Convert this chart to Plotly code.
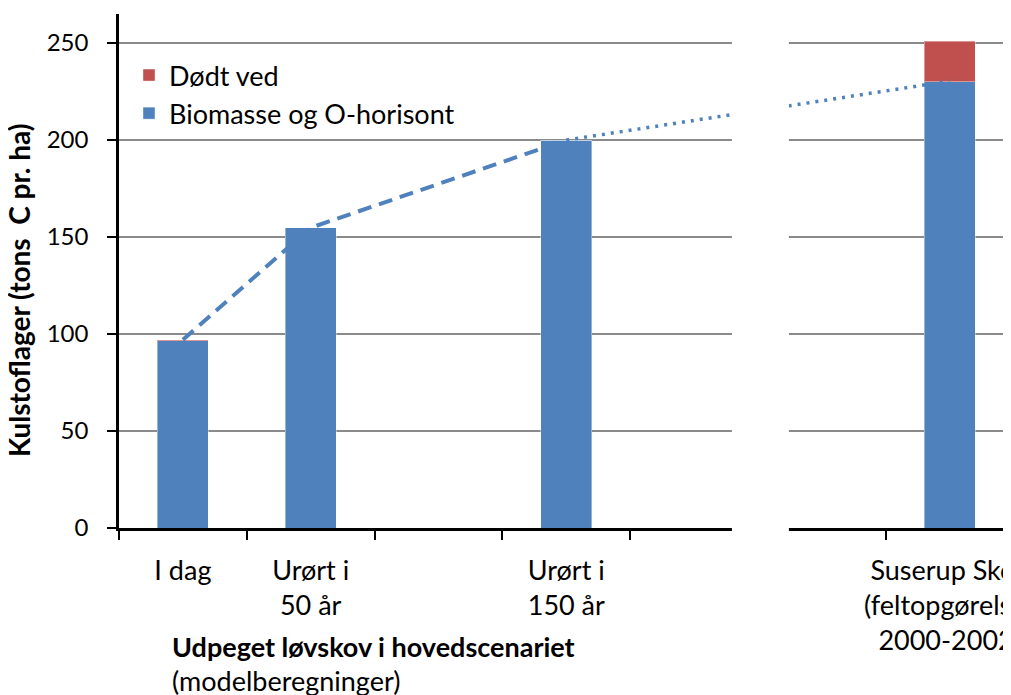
import plotly.graph_objects as go

# category positions along the shared x axis (two blank slots before Suserup)
categories = ["I dag", "Urørt i<br>50 år", "", "Urørt i<br>150 år", "", "",
              "Suserup Skov<br>(feltopgørelser<br>2000-2002)"]
positions = [0, 1, 2, 3, 4, 5, 6]

biomasse = [96.5, 154.8, None, 200.0, None, None, 230.0]
dodt_ved = [0.6, 0.0, None, 0.0, None, None, 21.0]

# trend line: modelled path (dashed) and extrapolation to Suserup (dotted)
model_x = [0, 1, 3]
model_y = [97.1, 154.8, 200.0]
extrap_x = [3, 6]
extrap_y = [200.0, 230.4]

BLUE = "#4F81BD"
RED = "#C0504D"
FONT = "Lato"
FS = 27

fig = go.Figure()
fig.add_trace(go.Bar(
    x=positions, y=biomasse, name="Biomasse og O-horisont",
    marker=dict(color=BLUE, line=dict(color="rgba(255,255,255,0.4)", width=1)),
    width=0.4,
))
fig.add_trace(go.Bar(
    x=positions, y=dodt_ved, name="Dødt ved",
    marker=dict(color=RED, line=dict(color="rgba(255,255,255,0.4)", width=1)),
    width=0.4,
))
fig.add_trace(go.Scatter(
    x=model_x, y=model_y, mode="lines", showlegend=False, hoverinfo="skip",
    line=dict(color=BLUE, width=4, dash="14px,8px"),
))
fig.add_trace(go.Scatter(
    x=extrap_x, y=extrap_y, mode="lines", showlegend=False, hoverinfo="skip",
    line=dict(color=BLUE, width=3.5, dash="3px,6px"),
))

# white band separating the model panel from the field-survey panel
fig.add_shape(type="rect", xref="x", yref="paper", x0=4.296, x1=4.742,
              y0=-0.04, y1=1.0, fillcolor="white", line_width=0, layer="above")

fig.add_annotation(text="<b>Kulstoflager (tons  C pr. ha)</b>",
                   xref="paper", yref="paper", x=(19 - 119) / 892,
                   y=(528 - 290) / 514, textangle=-90,
                   xanchor="center", yanchor="middle", showarrow=False,
                   font=dict(family=FONT, size=28, color="black"))
fig.add_annotation(text="<b>Udpeget løvskov i hovedscenariet</b>",
                   xref="paper", yref="paper", x=(170 - 119) / 892,
                   y=(528 - 646) / 514,
                   xanchor="left", yanchor="middle", showarrow=False,
                   font=dict(family=FONT, size=FS, color="black"))
fig.add_annotation(text="(modelberegninger)",
                   xref="paper", yref="paper", x=(170 - 119) / 892,
                   y=(528 - 680) / 514,
                   xanchor="left", yanchor="middle", showarrow=False,
                   font=dict(family=FONT, size=FS, color="black"))

# page body adds an 8px offset, so the figure is 8px smaller than the window
fig.update_layout(
    width=1003, height=687,
    margin=dict(l=111, r=0, t=6, b=167),
    barmode="stack",
    plot_bgcolor="white", paper_bgcolor="white",
    font=dict(family=FONT, size=FS, color="black"),
    legend=dict(x=(129 - 119) / 892, y=1 - (51 - 14) / 514,
                xanchor="left", yanchor="top",
                traceorder="reversed", bgcolor="rgba(0,0,0,0)",
                font=dict(size=FS), itemwidth=30, tracegroupgap=0),
    showlegend=True,
)
fig.update_xaxes(
    range=[-0.5, 6.48], tickmode="array",
    tickvals=[0, 1, 3, 6], ticktext=[categories[i] for i in [0, 1, 3, 6]],
    ticks="", ticklabelstandoff=17, ticklabeloverflow="allow",
    automargin=False,
    showline=True, linecolor="black", linewidth=2.5,
    showgrid=False, zeroline=False,
    minor=dict(tickmode="linear", tick0=0.5, dtick=1, ticks="outside",
               ticklen=9, tickwidth=2, tickcolor="black", showgrid=False),
)
fig.update_yaxes(
    range=[0, 265], tickmode="linear", tick0=0, dtick=50,
    ticks="outside", ticklen=9, tickwidth=2, tickcolor="black",
    ticklabelstandoff=14, tickfont=dict(size=24),
    automargin=False,
    showline=True, linecolor="black", linewidth=2.5,
    showgrid=True, gridcolor="#8A8A8A", gridwidth=2, zeroline=False,
)

fig.write_html("out.html")
